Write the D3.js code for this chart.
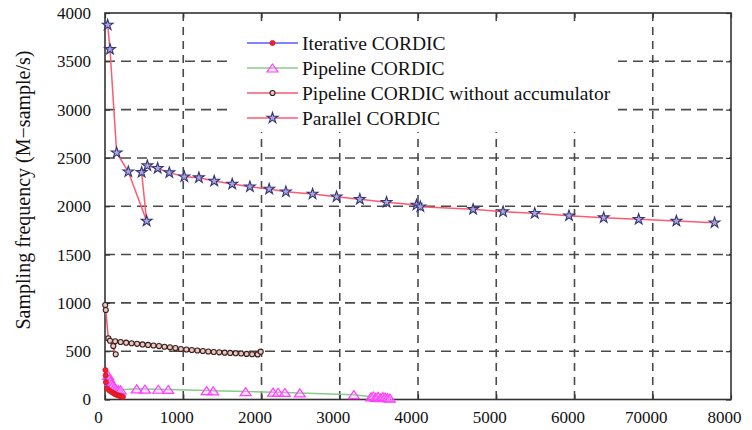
<!DOCTYPE html>
<html><head><meta charset="utf-8">
<script src="https://cdn.jsdelivr.net/npm/d3@7"></script>
<style>
body{margin:0;background:#fff}
svg{display:block}
text{font-family:"Liberation Serif","Times New Roman",serif;fill:#111}
</style>
</head><body><svg id="c" width="752" height="430"></svg>
<script>
// ---- data ----
const xTicks=[0,1000,2000,3000,4000,5000,6000,7000,8000];
const xTickLabels=["0","1000","2000","3000","4000","5000","6000","70000","8000"];
const yTicks=[0,500,1000,1500,2000,2500,3000,3500,4000];
const seriesNames=["Iterative CORDIC","Pipeline CORDIC","Pipeline CORDIC without accumulator","Parallel CORDIC"];

const iterX=[5,8,12,30,60,90,110,130,150,170,190,210,230];
const iterY=[305,250,180,110,90,75,65,55,48,42,36,32,28];

const pipeX=[40,55,70,85,100,120,140,170,200,405,511,681,808,1299,1383,1797,2149,2213,2299,2490,3180,3400,3430,3460,3490,3520,3550,3580,3610,3640];
const pipeY=[250,215,190,165,145,125,110,102,100,110,108,106,104,92,90,82,76,75,73,68,50,28,36,22,32,18,30,24,20,14];

const noAccX=[3,10,42,106,137,64,130,200,270,340,410,480,550,620,690,760,830,900,970,1040,1110,1180,1250,1320,1390,1460,1530,1600,1670,1740,1810,1880,1950,1990];
const noAccY=[978,926,633,553,468,608,602,595,588,582,576,570,565,559,553,546,540,532,523,517,512,507,502,497,492,488,485,482,479,476,472,468,467,495];

const parX=[34,64,149,298,532,468,541,673,822,1013,1200,1396,1626,1852,2098,2312,2653,2959,3257,3598,3981,4030,4704,5087,5492,5930,6373,6820,7302,7790];
const parY=[3876,3624,2554,2357,1847,2351,2420,2393,2348,2306,2296,2261,2230,2202,2178,2150,2127,2099,2072,2041,2013,1995,1968,1944,1927,1902,1882,1865,1847,1830];

// ---- layout ----
const x=d3.scaleLinear().domain([0,8000]).range([105,731]);
const y=d3.scaleLinear().domain([0,4000]).range([399.5,13]);
const svg=d3.select("#c");

const gridColor="#4a4a4a";
// grid
svg.append("g").selectAll("line").data(xTicks.slice(1,-1)).join("line")
  .attr("x1",d=>x(d)).attr("x2",d=>x(d)).attr("y1",y(4000)).attr("y2",y(0))
  .attr("stroke",gridColor).attr("stroke-width",1.6).attr("stroke-dasharray","8,6");
svg.append("g").selectAll("line").data(yTicks.slice(1,-1)).join("line")
  .attr("y1",d=>y(d)).attr("y2",d=>y(d)).attr("x1",x(0)).attr("x2",x(8000))
  .attr("stroke",gridColor).attr("stroke-width",1.6).attr("stroke-dasharray","10,6");

// axes
function styleAxis(g){g.select(".domain").remove();g.selectAll(".tick line").attr("stroke","#333").attr("stroke-width",1.2);g.selectAll("text").attr("font-size",17).attr("fill","#111").attr("font-family","Liberation Serif, serif");}
svg.append("g").attr("transform",`translate(0,${y(0)})`)
  .call(d3.axisBottom(x).tickValues(xTicks).tickFormat((d,i)=>xTickLabels[i]).tickSizeInner(-5).tickSizeOuter(0).tickPadding(11))
  .call(styleAxis).call(g=>g.selectAll("text").attr("dx",-7));
svg.append("g").attr("transform",`translate(${x(0)},0)`)
  .call(d3.axisLeft(y).tickValues(yTicks).tickFormat(d3.format("d")).tickSizeInner(-5).tickSizeOuter(0).tickPadding(14))
  .call(styleAxis);
svg.append("g").attr("transform",`translate(${x(8000)},0)`)
  .call(d3.axisRight(y).tickValues(yTicks).tickFormat("").tickSizeInner(-5).tickSizeOuter(0)).call(styleAxis);
svg.append("g").attr("transform",`translate(0,${y(4000)})`)
  .call(d3.axisTop(x).tickValues(xTicks).tickFormat("").tickSizeInner(-5).tickSizeOuter(0)).call(styleAxis);

svg.append("rect").attr("x",x(0)).attr("y",y(4000)).attr("width",x(8000)-x(0)).attr("height",y(0)-y(4000))
  .attr("fill","none").attr("stroke","#333").attr("stroke-width",1.6);

// y title
svg.append("text").attr("transform",`translate(30,190) rotate(-90)`).attr("text-anchor","middle")
  .attr("font-size",20).text("Sampling frequency (M\u2212sample/s)");

// styles
const triType={draw(ctx,size){const w=11,h=8;ctx.moveTo(0,-h/2);ctx.lineTo(w/2,h/2);ctx.lineTo(-w/2,h/2);ctx.closePath();}};
const styles=[
  {line:"#5a5aff",mk:d3.symbol(d3.symbolCircle,20),fill:"#f02030",stroke:"#e01020",sw:0.8},
  {line:"#88cc88",mk:d3.symbol(triType,60),fill:"rgba(255,170,255,0.35)",stroke:"#ff40ff",sw:1.2},
  {line:"#f05a70",mk:d3.symbol(d3.symbolCircle,20),fill:"#e8c8c0",stroke:"#3a1e1e",sw:1.1},
  {line:"#ff5a70",mk:d3.symbol(d3.symbolStar,36),fill:"#a8a8dc",stroke:"#34347a",sw:1.1}
];
const allSeries=[[iterX,iterY],[pipeX,pipeY],[noAccX,noAccY],[parX,parY]];
const lineGen=d3.line().x(d=>x(d[0])).y(d=>y(d[1]));

// draw order: parallel, no-acc, pipeline, iterative
[3,2,1,0].forEach(si=>{
  const [xs,ys]=allSeries[si];const st=styles[si];
  const pts=xs.map((v,i)=>[v,ys[i]]);
  svg.append("path").datum(pts).attr("d",lineGen).attr("fill","none").attr("stroke",st.line).attr("stroke-width",1.5);
  svg.append("g").selectAll("path").data(pts).join("path")
    .attr("transform",d=>`translate(${x(d[0])},${y(d[1])})`).attr("d",st.mk)
    .attr("fill",st.fill).attr("stroke",st.stroke).attr("stroke-width",st.sw);
});

// legend
const lg=svg.append("g");
lg.append("rect").attr("x",233).attr("y",22).attr("width",385).attr("height",110).attr("fill","#fff");
seriesNames.forEach((name,i)=>{
  const yy=43+25*i;const st=styles[i];
  lg.append("line").attr("x1",247).attr("x2",298).attr("y1",yy).attr("y2",yy).attr("stroke",st.line).attr("stroke-width",1.6);
  lg.append("path").attr("transform",`translate(272.5,${yy})`).attr("d",st.mk).attr("fill",st.fill).attr("stroke",st.stroke).attr("stroke-width",st.sw);
  lg.append("text").attr("x",302).attr("y",yy).attr("dy","0.35em").attr("font-size",19.5).text(name);
});
</script>
</body></html>
